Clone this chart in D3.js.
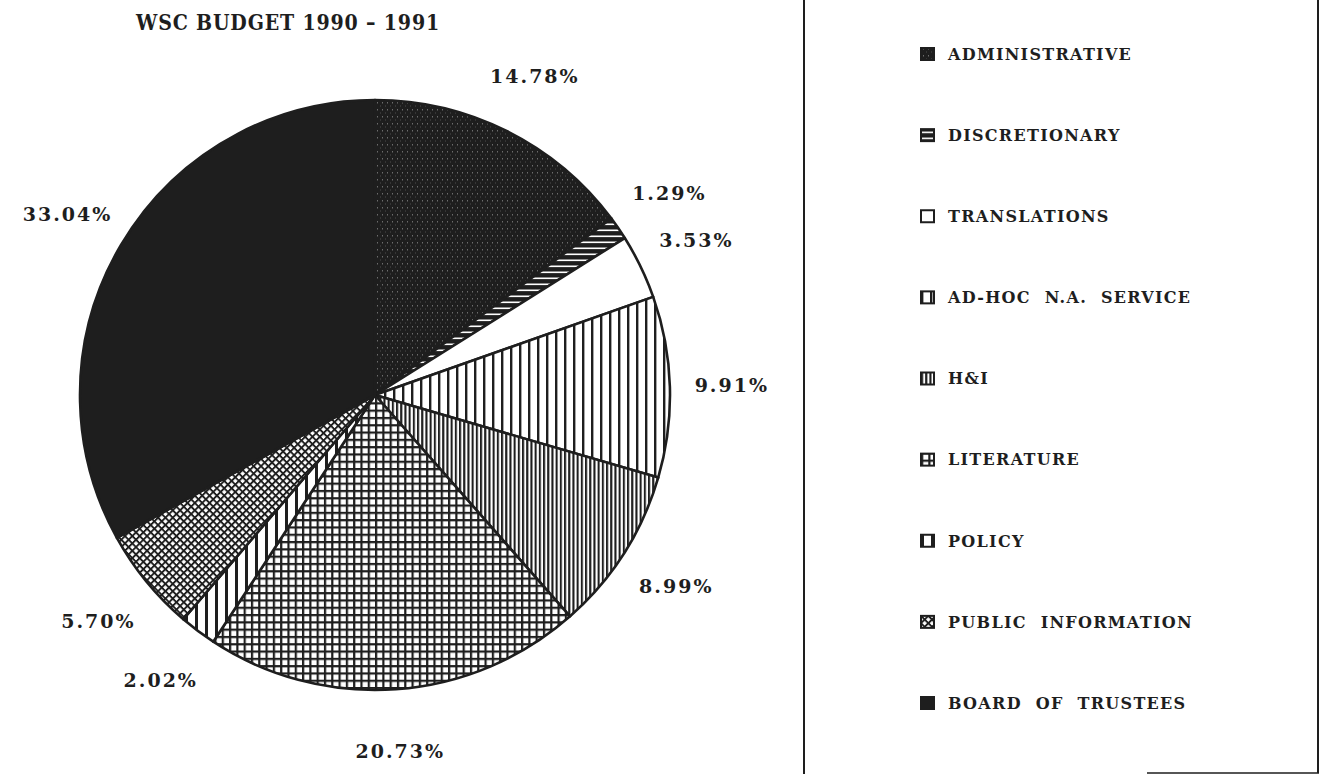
<!DOCTYPE html>
<html>
<head>
<meta charset="utf-8">
<script src="https://cdn.jsdelivr.net/npm/d3@7"></script>
<style>
  body { margin: 0; background: #fff; }
  svg { display: block; }
  .lbl { font-family: "DejaVu Serif", serif; font-weight: bold; fill: #1e1e1e; }
</style>
</head>
<body>
<svg id="chart" width="1323" height="774"></svg>
<script>
// data
const title = "WSC BUDGET 1990 \u2013 1991";
const categories = [
    "ADMINISTRATIVE", "DISCRETIONARY", "TRANSLATIONS", "AD-HOC N.A. SERVICE",
    "H&I", "LITERATURE", "POLICY", "PUBLIC INFORMATION", "BOARD OF TRUSTEES"
];
const shares = [14.78, 1.29, 3.53, 9.91, 8.99, 20.73, 2.02, 5.70, 33.04];

const width = 1323, height = 774;
const svg = d3.select("#chart");
const ink = "#1e1e1e";

// hatch patterns, one per category (old plotter style)
const defs = svg.append("defs");
function pattern(id, w, h, draw, rotate) {
    const p = defs.append("pattern")
        .attr("id", id)
        .attr("patternUnits", "userSpaceOnUse")
        .attr("width", w)
        .attr("height", h);
    if (rotate) p.attr("patternTransform", `rotate(${rotate})`);
    draw(p, w, h);
}
// administrative: dark with faint speckle
pattern("p-admin", 5, 7, (p, w, h) => {
    p.append("rect").attr("width", w).attr("height", h).attr("fill", ink);
    p.append("rect").attr("x", 2).attr("y", 1).attr("width", 1).attr("height", 1.5).attr("fill", "#fff").attr("opacity", 0.35);
    p.append("rect").attr("x", 0).attr("y", 4.5).attr("width", 1).attr("height", 1).attr("fill", "#fff").attr("opacity", 0.2);
});
// discretionary: dark with white horizontal dashes
pattern("p-disc", 6, 6, (p, w, h) => {
    p.append("rect").attr("width", w).attr("height", h).attr("fill", ink);
    p.append("rect").attr("y", 2.5).attr("width", w).attr("height", 1.6).attr("fill", "#fff");
});
// vertical stripes of different densities
function vstripes(id, step, lw) {
    pattern(id, step, 10, (p, w, h) => {
        p.append("rect").attr("width", w).attr("height", h).attr("fill", "#fff");
        p.append("rect").attr("width", lw).attr("height", h).attr("fill", ink);
    });
}
vstripes("p-adhoc", 9, 2.4);
vstripes("p-hi", 4.2, 2.1);
vstripes("p-policy", 10, 3);
// literature: square grid
pattern("p-lit", 7.3, 7.3, (p, w, h) => {
    p.append("rect").attr("width", w).attr("height", h).attr("fill", "#fff");
    p.append("rect").attr("width", 2.2).attr("height", h).attr("fill", ink);
    p.append("rect").attr("width", w).attr("height", 2.2).attr("fill", ink);
});
// public information: diagonal crosshatch
pattern("p-pub", 5.2, 5.2, (p, w, h) => {
    p.append("rect").attr("width", w).attr("height", h).attr("fill", "#fff");
    p.append("rect").attr("width", 1.9).attr("height", h).attr("fill", ink);
    p.append("rect").attr("width", w).attr("height", 1.9).attr("fill", ink);
}, 45);

const fill = d3.scaleOrdinal()
    .domain(categories)
    .range(["url(#p-admin)", "url(#p-disc)", "#fff", "url(#p-adhoc)", "url(#p-hi)",
            "url(#p-lit)", "url(#p-policy)", "url(#p-pub)", ink]);

// title
svg.append("text")
    .attr("class", "lbl")
    .attr("x", 136)
    .attr("y", 30)
    .attr("font-size", 23)
    .attr("letter-spacing", 1)
    .attr("textLength", 304)
    .attr("lengthAdjust", "spacingAndGlyphs")
    .text(title);

// pie
const cx = 375, cy = 395, r = 295;
const pie = d3.pie().sort(null).value(d => d.value);
const arcs = pie(categories.map((c, i) => ({ name: c, value: shares[i] })));
const arc = d3.arc().innerRadius(0).outerRadius(r);
const labelArc = d3.arc().innerRadius(r * 1.21).outerRadius(r * 1.21);

const g = svg.append("g").attr("transform", `translate(${cx},${cy})`);
g.selectAll("path")
    .data(arcs)
    .join("path")
    .attr("d", arc)
    .attr("fill", d => fill(d.data.name))
    .attr("stroke", ink)
    .attr("stroke-width", 2.6)
    .attr("stroke-linejoin", "round");

g.selectAll("text")
    .data(arcs)
    .join("text")
    .attr("class", "lbl")
    .attr("transform", d => `translate(${labelArc.centroid(d)})`)
    .attr("text-anchor", "middle")
    .attr("dy", "0.36em")
    .attr("font-size", 19)
    .attr("letter-spacing", 2)
    .text(d => d3.format(".2f")(d.data.value) + "%");

// legend frame
const frame = svg.append("g").attr("stroke", ink).attr("stroke-width", 2);
frame.append("line").attr("x1", 804).attr("x2", 804).attr("y1", 0).attr("y2", height);
frame.append("line").attr("x1", 1318).attr("x2", 1318).attr("y1", 0).attr("y2", 773);
frame.append("line").attr("x1", 1147).attr("x2", 1319).attr("y1", 773).attr("y2", 773).attr("stroke-width", 1.5);

// legend entries
const ly = d3.scalePoint().domain(categories).range([54, 703]);
const legend = svg.append("g")
    .selectAll("g")
    .data(categories)
    .join("g")
    .attr("transform", d => `translate(921, ${ly(d)})`);
legend.append("rect")
    .attr("x", 0)
    .attr("y", -6)
    .attr("width", 13)
    .attr("height", 12)
    .attr("fill", d => fill(d))
    .attr("stroke", ink)
    .attr("stroke-width", 2);
legend.append("text")
    .attr("class", "lbl")
    .attr("x", 27)
    .attr("dy", "0.36em")
    .attr("font-size", 16)
    .attr("letter-spacing", 1.3)
    .attr("word-spacing", 7)
    .text(d => d);
</script>
</body>
</html>
